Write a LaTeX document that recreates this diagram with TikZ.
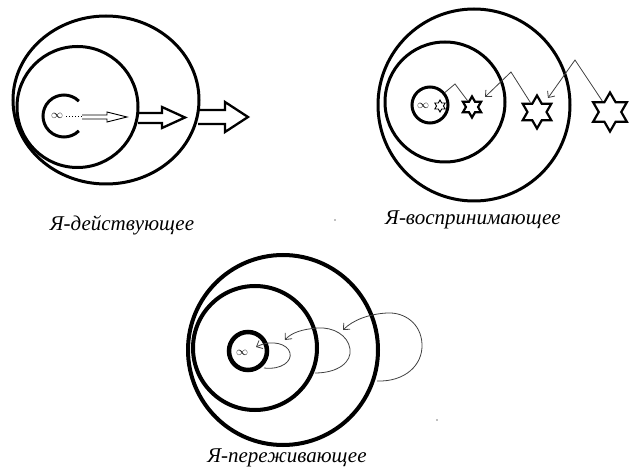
\documentclass[tikz,border=0pt]{standalone}
\usepackage{fontspec}
\setmainfont{Liberation Serif}
\usetikzlibrary{shapes.geometric,arrows.meta}
\begin{document}
\begin{tikzpicture}[x=1pt,y=-1pt,
  ring/.style={line width=3pt},
  thickring/.style={line width=4pt},
  thinline/.style={line width=0.8pt, draw=black!75},
  blockarrow/.style={line width=2.3pt, line join=miter},
  hstar/.style={star, star points=6, star point ratio=1.732, draw, line width=2.2pt, inner sep=0pt, minimum size=#1},
  smallring/.style={circle, draw, inner sep=0pt, minimum size=#1},
  lbl/.style={font=\fontsize{21}{21}\selectfont\itshape, inner sep=0pt},
  inf/.style={font=\fontsize{13}{13}\selectfont, inner sep=0pt},
  barb/.style={-{Straight Barb[length=5pt,width=9pt]}}
]
\useasboundingbox (0,0) rectangle (630,468);

% ---------- Diagram 1: Я-действующее ----------
\draw[ring] (106,100) ellipse [x radius=93, y radius=84];
\draw[ring] (77.5,107) circle [radius=60.5];
\draw[ring] ([shift={(45:21)}]64,116) arc[start angle=45, end angle=315, radius=21];
\node[inf] (inf1) at (57,116) {$\infty$};
\coordinate (d1) at (66,117);
\coordinate (d2) at (82,117);
\draw[dotted, line width=1pt] (d1) -- (d2);
\draw[line width=0.9pt] (82,115) -- (107,115) -- (107,112) -- (127,117) -- (107,122) -- (107,119) -- (82,119);
\draw[blockarrow] (138,113) -- (162,113) -- (162,107) -- (185,117.5) -- (162,128) -- (162,123) -- (138,123);
\draw[blockarrow] (198,110) -- (225,110) -- (225,102) -- (248,117) -- (225,132) -- (225,124) -- (198,124);
\node[lbl] (l1) at (122,225) {Я-действующее};

% ---------- Diagram 2: Я-воспринимающее ----------
\draw[ring] (474,105) circle [radius=96];
\draw[ring] (445,102) circle [radius=60];
\node[smallring=36, line width=3pt] (sc2) at (430,105) {};
\node[inf] (inf2) at (423,106) {$\infty$};
\node[hstar=12, line width=0.9pt] (s0) at (440,106) {};
\node[hstar=21] (s1) at (472,107) {};
\node[hstar=33] (s2) at (537,112) {};
\node[hstar=39] (s3) at (610,112) {};
\coordinate (p1) at (455,84);
\coordinate (p2) at (511,72);
\coordinate (t2) at (485,97);
\coordinate (p3) at (575,60);
\coordinate (t3) at (548,98);
\draw[thinline] (s1.125) -- (p1) -- (sc2.40);
\draw[thinline, barb] (s2.125) -- (p2) -- (t2);
\draw[thinline, barb] (s3.125) -- (p3) -- (t3);
\node[lbl] (l2) at (473,220) {Я-воспринимающее};

% ---------- Diagram 3: Я-переживающее ----------
\draw[thickring] (283,350) circle [radius=95];
\draw[thickring] (255,348) circle [radius=62];
\node[smallring=38, line width=4.5pt] (sc3) at (248,351) {};
\node[inf] (inf3) at (242,353) {$\infty$};
\coordinate (a1) at (264,368);
\coordinate (e1) at (256,347);
\coordinate (a2) at (315,373);
\coordinate (e2) at (285,340);
\coordinate (a3) at (377,381);
\coordinate (e3) at (343,330);
\draw[thinline, barb] (a1) .. controls (282,370) and (292,361) .. (290,353)
  .. controls (288,344) and (272,339) .. (e1);
\draw[thinline, barb] (a2) .. controls (338,373) and (352,362) .. (350,349)
  .. controls (348,335) and (333,327) .. (318,328)
  .. controls (302,329) and (291,333) .. (e2);
\draw[thinline, barb] (a3) .. controls (405,382) and (423,365) .. (422,344)
  .. controls (421,323) and (404,312) .. (387,313)
  .. controls (369,314) and (353,320) .. (e3);
\node[lbl] (l3) at (287,458) {Я-переживающее};

% scan specks
\fill[black!50] (335,220) circle [radius=0.8];
\fill[black!50] (437,420) circle [radius=0.8];
\end{tikzpicture}
\end{document}
